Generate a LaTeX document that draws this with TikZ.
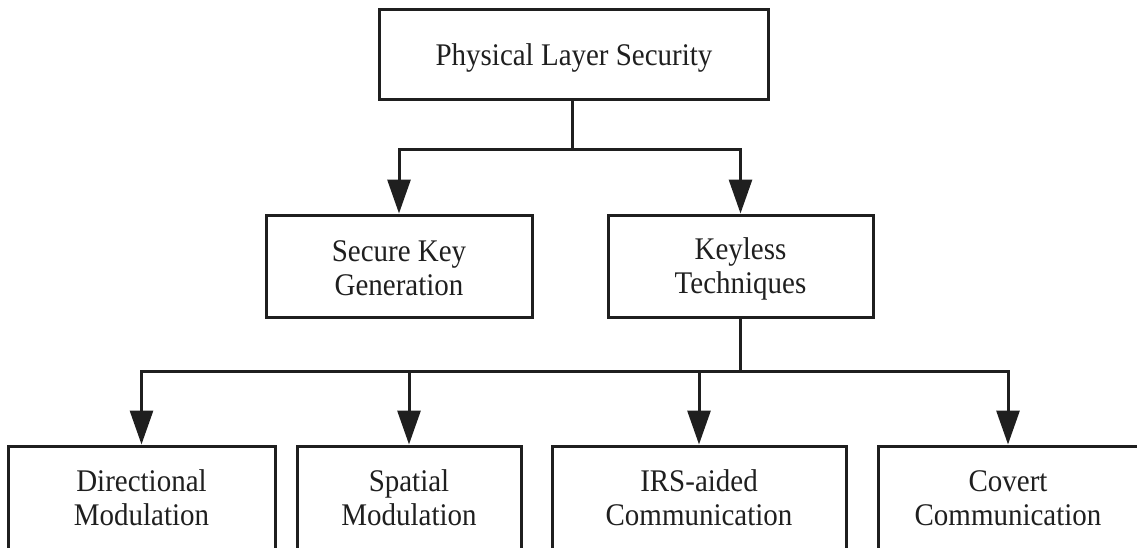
\documentclass[tikz,border=0pt]{standalone}
\usepackage{fontspec}
\setmainfont{Liberation Serif}[FakeStretch=0.92]
\usetikzlibrary{arrows.meta}
\newcommand\mystrut{\rule{0pt}{25pt}}
\begin{document}
\begin{tikzpicture}[x=1pt,y=-1pt,
  box/.style={draw=black!88, line width=3pt, inner sep=0pt},
  lbl/.style={align=center, inner sep=0pt, anchor=north, text=black!88,
              font=\fontsize{31.5}{34}\selectfont},
  conn/.style={draw=black!88, line width=3pt},
  arr/.style={conn, -{Triangle[length=34pt,width=23pt]}}]
\useasboundingbox (0,0) rectangle (1137,547);
\clip (0,0) rectangle (1137,547);
% boxes
\node[box, minimum width=389pt, minimum height=90pt] (pls) at (573.5,54) {};
\node[box, minimum width=266pt, minimum height=102pt] (skg) at (399,266) {};
\node[box, minimum width=265pt, minimum height=102pt] (kt) at (740.5,266) {};
\node[box, minimum width=267pt, minimum height=200pt] (dm) at (141.5,546) {};
\node[box, minimum width=224pt, minimum height=200pt] (sm) at (409,546) {};
\node[box, minimum width=294pt, minimum height=200pt] (irs) at (699,546) {};
\node[box, minimum width=260pt, minimum height=200pt] (cc) at (1008,546) {};
% labels (north = first baseline - 25pt)
\node[lbl] (plst) at (574,40) {\mystrut Physical Layer Security};
\node[lbl] (skgt) at (399,236) {\mystrut Secure Key\\Generation};
\node[lbl] (ktt) at (740.5,234) {\mystrut Keyless\\Techniques};
\node[lbl] (dmt) at (141.5,466) {\mystrut Directional\\Modulation};
\node[lbl] (smt) at (409,466) {\mystrut Spatial\\Modulation};
\node[lbl] (irst) at (699,466) {\mystrut IRS-aided\\Communication};
\node[lbl] (cct) at (1008,466) {\mystrut Covert\\Communication};
% connectors
\coordinate (j1) at (572,149);
\draw[conn] (pls.south -| j1) -- (j1);
\draw[arr] (j1) -| (skg.north);
\draw[arr] (j1) -| (kt.north);
\coordinate (j2) at (740.5,371);
\draw[conn] (kt.south) -- (j2);
\draw[arr] (j2) -| (dm.north);
\draw[arr] (j2) -| (sm.north);
\draw[arr] (j2) -| (irs.north);
\draw[arr] (j2) -| (cc.north);
\end{tikzpicture}
\end{document}
